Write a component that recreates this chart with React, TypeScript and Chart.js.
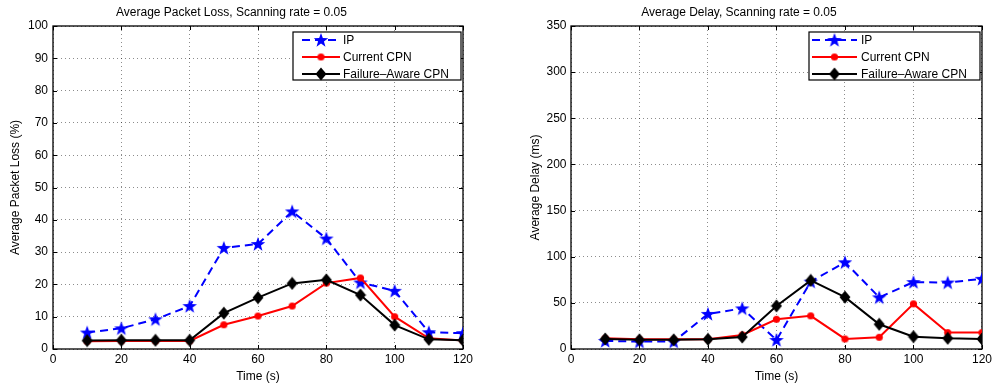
import React, { useEffect, useRef } from "react";
import { Chart, registerables } from "chart.js";

Chart.register(...registerables);

const timeLabels = [10, 20, 30, 40, 50, 60, 70, 80, 90, 100, 110, 120];

const lossIP = [5.1, 6.4, 9.2, 13.3, 31.3, 32.5, 42.6, 34.2, 20.6, 18.0, 5.2, 4.9];
const lossCurrent = [2.4, 2.5, 2.5, 2.5, 7.5, 10.2, 13.3, 20.4, 22.0, 10.0, 3.3, 2.6];
const lossFailureAware = [2.6, 2.7, 2.7, 2.7, 11.1, 15.9, 20.3, 21.4, 16.7, 7.4, 3.0, 2.7];

const delayIP = [8.7, 8.0, 8.0, 38.0, 44.0, 9.8, 73.0, 94.0, 56.0, 72.5, 72.0, 76.0];
const delayCurrent = [11.6, 10.5, 10.5, 10.5, 15.2, 32.2, 35.9, 10.9, 12.7, 48.9, 17.8, 17.8];
const delayFailureAware = [10.9, 9.9, 9.9, 10.5, 13.0, 46.7, 74.3, 56.2, 26.8, 13.4, 11.6, 10.9];

const seriesNames = ["IP", "Current CPN", "Failure\u2013Aware CPN"];

const FONT = "'Liberation Sans', Arial, Helvetica, sans-serif";

function makeStar(): HTMLCanvasElement {
  const c = document.createElement("canvas");
  c.width = 16;
  c.height = 16;
  const ctx = c.getContext("2d")!;
  const cx = 8, cy = 8.5, ro = 7.6, ri = 3.1;
  ctx.beginPath();
  for (let i = 0; i < 10; i++) {
    const r = i % 2 === 0 ? ro : ri;
    const a = -Math.PI / 2 + (i * Math.PI) / 5;
    const x = cx + r * Math.cos(a);
    const y = cy + r * Math.sin(a);
    if (i === 0) ctx.moveTo(x, y);
    else ctx.lineTo(x, y);
  }
  ctx.closePath();
  ctx.fillStyle = "#0000ff";
  ctx.fill();
  return c;
}

function makeDiamond(): HTMLCanvasElement {
  const c = document.createElement("canvas");
  c.width = 12;
  c.height = 14;
  const ctx = c.getContext("2d")!;
  ctx.beginPath();
  ctx.moveTo(6, 0.5);
  ctx.lineTo(11.5, 7);
  ctx.lineTo(6, 13.5);
  ctx.lineTo(0.5, 7);
  ctx.closePath();
  ctx.fillStyle = "#000000";
  ctx.fill();
  return c;
}

function makeCircle(): HTMLCanvasElement {
  const c = document.createElement("canvas");
  c.width = 9;
  c.height = 9;
  const ctx = c.getContext("2d")!;
  ctx.beginPath();
  ctx.arc(4.5, 4.5, 3.6, 0, Math.PI * 2);
  ctx.fillStyle = "#ff0000";
  ctx.fill();
  return c;
}

type LegendGeom = { boxLeft: number; boxRight: number; boxTop: number; boxBottom: number; lineStart: number; lineEnd: number; textX: number; rows: number[] };

function buildChart(
  canvas: HTMLCanvasElement,
  title: string,
  yTitle: string,
  yMax: number,
  yStep: number,
  data: number[][],
  yAxisWidth: number,
  rightPad: number,
  yTickPad: number,
  yTitlePad: number,
  legend: LegendGeom
) {
  const star = makeStar();
  const diamond = makeDiamond();
  const circle = makeCircle();
  const markers = [star, circle, diamond];
  const colors = ["#0000ff", "#ff0000", "#000000"];
  const dashes = [[8, 5], [], []];

  const framePlugin = {
    id: "frame",
    beforeDatasetsDraw(chart: any) {
      const { ctx, chartArea } = chart;
      const { left, right, top, bottom } = chartArea;
      ctx.save();
      ctx.strokeStyle = "#000";
      ctx.lineWidth = 1;
      const xs = chart.scales.x;
      const ys = chart.scales.y;
      ctx.beginPath();
      xs.ticks.forEach((t: any) => {
        const px = Math.round(xs.getPixelForValue(t.value)) + 0.5;
        ctx.moveTo(px, bottom);
        ctx.lineTo(px, bottom - 4);
        ctx.moveTo(px, top);
        ctx.lineTo(px, top + 4);
      });
      ys.ticks.forEach((t: any) => {
        const py = Math.round(ys.getPixelForValue(t.value)) + 0.5;
        ctx.moveTo(left, py);
        ctx.lineTo(left + 4, py);
        ctx.moveTo(right, py);
        ctx.lineTo(right - 4, py);
      });
      ctx.stroke();
      ctx.lineWidth = 1.3;
      ctx.strokeRect(left, top, right - left, bottom - top);
      ctx.restore();
    },
  };

  const legendPlugin = {
    id: "customLegend",
    afterDraw(chart: any) {
      const { ctx } = chart;
      const g = legend;
      ctx.save();
      ctx.fillStyle = "#fff";
      ctx.fillRect(g.boxLeft, g.boxTop, g.boxRight - g.boxLeft, g.boxBottom - g.boxTop);
      ctx.strokeStyle = "#000";
      ctx.lineWidth = 1.2;
      ctx.strokeRect(g.boxLeft, g.boxTop, g.boxRight - g.boxLeft, g.boxBottom - g.boxTop);
      chart.data.datasets.forEach((ds: any, i: number) => {
        const y = g.rows[i];
        ctx.beginPath();
        ctx.setLineDash(dashes[i]);
        ctx.strokeStyle = colors[i];
        ctx.lineWidth = 2;
        ctx.moveTo(g.lineStart, y);
        ctx.lineTo(g.lineEnd, y);
        ctx.stroke();
        ctx.setLineDash([]);
        const m = markers[i];
        const mx = (g.lineStart + g.lineEnd) / 2;
        ctx.drawImage(m, mx - m.width / 2, y - m.height / 2);
        ctx.fillStyle = "#000";
        ctx.font = `12px ${FONT}`;
        ctx.textBaseline = "middle";
        ctx.textAlign = "left";
        ctx.fillText(ds.label, g.textX, y + 0.5);
      });
      ctx.restore();
    },
  };

  return new Chart(canvas, {
    type: "line",
    data: {
      labels: timeLabels,
      datasets: data.map((d, i) => ({
        label: seriesNames[i],
        data: d.map((v, j) => ({ x: timeLabels[j], y: v })),
        borderColor: colors[i],
        backgroundColor: colors[i],
        borderWidth: 2,
        borderDash: dashes[i],
        pointStyle: markers[i] as any,
        pointRadius: 5,
        tension: 0,
        fill: false,
        order: 2 - i,
      })),
    },
    options: {
      responsive: false,
      animation: false,
      devicePixelRatio: 1,
      layout: { padding: { left: 0, right: rightPad, top: 0, bottom: 0 } },
      font: { family: FONT, size: 12 } as any,
      plugins: {
        legend: { display: false },
        tooltip: { enabled: false },
        title: {
          display: true,
          text: title,
          color: "#000",
          font: { family: FONT, size: 12, weight: "normal" },
          padding: { top: 5.6, bottom: 6 },
        },
      },
      scales: {
        x: {
          type: "linear",
          min: 0,
          max: 120,
          afterFit: (s: any) => {
            s.height = 38;
          },
          ticks: {
            stepSize: 20,
            color: "#000",
            font: { family: FONT, size: 12 },
            padding: 3,
            maxRotation: 0,
          },
          grid: {
            color: "rgba(0,0,0,0.45)",
            lineWidth: 1,
            drawTicks: false,
          },
          border: { display: false, dash: [1, 3] },
          title: {
            display: true,
            text: "Time (s)",
            color: "#000",
            font: { family: FONT, size: 12 },
            padding: { top: 0, bottom: 3 },
          },
        },
        y: {
          type: "linear",
          min: 0,
          max: yMax,
          afterFit: (s: any) => {
            s.width = yAxisWidth;
          },
          ticks: {
            stepSize: yStep,
            color: "#000",
            font: { family: FONT, size: 12 },
            padding: yTickPad,
          },
          grid: {
            color: "rgba(0,0,0,0.45)",
            lineWidth: 1,
            drawTicks: false,
          },
          border: { display: false, dash: [1, 3] },
          title: {
            display: true,
            text: yTitle,
            color: "#000",
            font: { family: FONT, size: 12 },
            padding: { top: yTitlePad, bottom: 0 },
          },
        },
      },
    },
    plugins: [framePlugin, legendPlugin],
  } as any);
}

export default function App() {
  const leftRef = useRef<HTMLCanvasElement>(null);
  const rightRef = useRef<HTMLCanvasElement>(null);

  useEffect(() => {
    const c1 = buildChart(
      leftRef.current!,
      "Average Packet Loss, Scanning rate = 0.05",
      "Average Packet Loss (%)",
      100,
      10,
      [lossIP, lossCurrent, lossFailureAware],
      53,
      32,
      5,
      8,
      { boxLeft: 293, boxRight: 461, boxTop: 32, boxBottom: 80, lineStart: 302, lineEnd: 340, textX: 343, rows: [40, 57, 74] }
    );
    const c2 = buildChart(
      rightRef.current!,
      "Average Delay, Scanning rate = 0.05",
      "Average Delay (ms)",
      350,
      50,
      [delayIP, delayCurrent, delayFailureAware],
      76,
      12,
      4.5,
      33,
      { boxLeft: 314, boxRight: 485, boxTop: 32, boxBottom: 80, lineStart: 317, lineEnd: 362, textX: 366, rows: [40, 57, 74] }
    );
    return () => {
      c1.destroy();
      c2.destroy();
    };
  }, []);

  return (
    <div style={{ position: "absolute", left: 0, top: 0, width: 995, height: 387, background: "#fff", overflow: "hidden" }}>
      <canvas ref={leftRef} width={495} height={387} style={{ position: "absolute", left: 0, top: 0, width: 495, height: 387 }} />
      <canvas ref={rightRef} width={500} height={387} style={{ position: "absolute", left: 495, top: 0, width: 500, height: 387 }} />
    </div>
  );
}
